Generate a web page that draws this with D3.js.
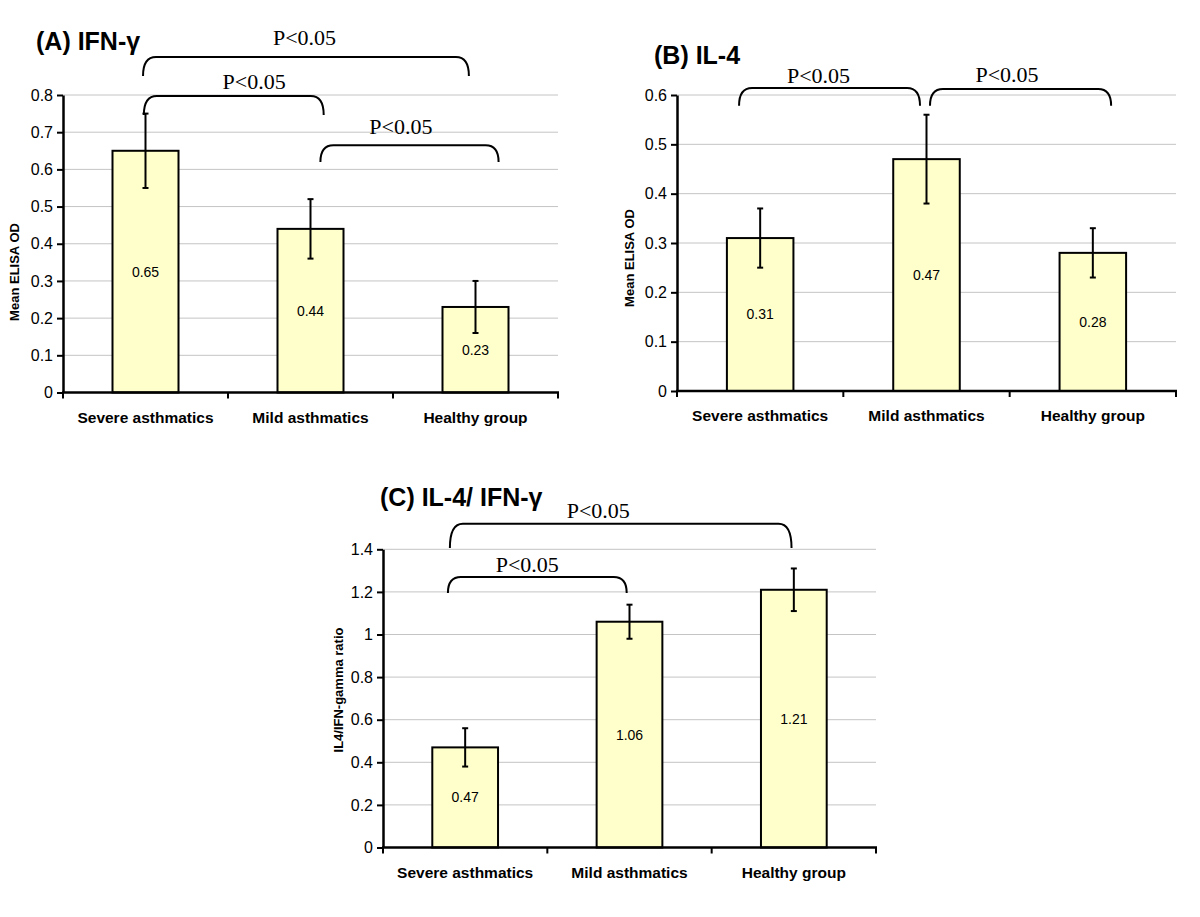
<!DOCTYPE html>
<html>
<head>
<meta charset="utf-8">
<script src="https://cdn.jsdelivr.net/npm/d3@7"></script>
<style>
  body { margin: 0; background: #fff; }
  svg { display: block; }
</style>
</head>
<body>
<div id="chart"></div>
<script>
// Data
const categories = ["Severe asthmatics", "Mild asthmatics", "Healthy group"];

const ifnMeans = [0.65, 0.44, 0.23];
const ifnErrors = [0.10, 0.08, 0.07];
const ifnTicks = [0, 0.1, 0.2, 0.3, 0.4, 0.5, 0.6, 0.7, 0.8];

const il4Means = [0.31, 0.47, 0.28];
const il4Errors = [0.06, 0.09, 0.05];
const il4Ticks = [0, 0.1, 0.2, 0.3, 0.4, 0.5, 0.6];

const ratioMeans = [0.47, 1.06, 1.21];
const ratioErrors = [0.09, 0.08, 0.10];
const ratioTicks = [0, 0.2, 0.4, 0.6, 0.8, 1, 1.2, 1.4];

// significance comparisons (category index pairs)
const ifnComparisons = [[0, 2], [0, 1], [1, 2]];
const il4Comparisons = [[0, 1], [1, 2]];
const ratioComparisons = [[0, 2], [0, 1]];
const sigLabel = "P<0.05";

// Layout of the three panels (pixels) and of their brackets
// bracket x in category units (0..3), y in value units
const panels = [
  {
    title: "(A) IFN-\u03b3", titleX: 36, titleY: 50,
    yLabel: "Mean ELISA OD", yLabelX: 19, yLabelY: 272,
    left: 63, right: 558, bottom: 392.5, top: 95,
    means: ifnMeans, errors: ifnErrors, ticks: ifnTicks, comparisons: ifnComparisons,
    brackets: [
      { x1: 0.485, x2: 2.46, top: 0.902, end: 0.851, lx: 1.464, ly: 0.934 },
      { x1: 0.49, x2: 1.58, top: 0.797, end: 0.746, lx: 1.158, ly: 0.816 },
      { x1: 1.56, x2: 2.64, top: 0.665, end: 0.62, lx: 2.048, ly: 0.695 }
    ]
  },
  {
    title: "(B) IL-4", titleX: 654, titleY: 64,
    yLabel: "Mean ELISA OD", yLabelX: 634, yLabelY: 258,
    left: 677, right: 1176, bottom: 391, top: 95,
    means: il4Means, errors: il4Errors, ticks: il4Ticks, comparisons: il4Comparisons,
    brackets: [
      { x1: 0.373, x2: 1.461, top: 0.614, end: 0.578, lx: 0.851, ly: 0.625 },
      { x1: 1.521, x2: 2.61, top: 0.612, end: 0.578, lx: 1.984, ly: 0.626 }
    ]
  },
  {
    title: "(C) IL-4/ IFN-\u03b3", titleX: 380, titleY: 506,
    yLabel: "IL4/IFN-gamma ratio", yLabelX: 343, yLabelY: 690,
    left: 383, right: 876, bottom: 847.5, top: 549.3,
    means: ratioMeans, errors: ratioErrors, ticks: ratioTicks, comparisons: ratioComparisons,
    brackets: [
      { x1: 0.407, x2: 2.486, top: 1.52, end: 1.406, lx: 1.31, ly: 1.547 },
      { x1: 0.395, x2: 1.483, top: 1.27, end: 1.195, lx: 0.878, ly: 1.293 }
    ]
  }
];

const svg = d3.select("#chart")
  .append("svg")
  .attr("width", 1200)
  .attr("height", 917);

panels.forEach(p => drawPanel(p));

function drawPanel(p) {
  const g = svg.append("g");
  const maxTick = p.ticks[p.ticks.length - 1];

  const x = d3.scaleBand()
    .domain(categories)
    .range([p.left, p.right])
    .padding(0);

  // category units, for brackets
  const pos = d3.scaleLinear().domain([0, 3]).range([p.left, p.right]);

  const y = d3.scaleLinear()
    .domain([0, maxTick])
    .range([p.bottom, p.top]);

  // gridlines
  g.append("g")
    .selectAll("line")
    .data(p.ticks.filter(t => t > 0))
    .enter()
    .append("line")
    .attr("x1", p.left)
    .attr("x2", p.right)
    .attr("y1", d => y(d))
    .attr("y2", d => y(d))
    .attr("stroke", "#c4c4c4")
    .attr("stroke-width", 1);

  // bars
  const barW = x.bandwidth() * 0.4;
  g.append("g")
    .selectAll("rect")
    .data(p.means)
    .enter()
    .append("rect")
    .attr("x", (d, i) => x(categories[i]) + (x.bandwidth() - barW) / 2)
    .attr("y", d => y(d))
    .attr("width", barW)
    .attr("height", d => y(0) - y(d))
    .attr("fill", "#ffffcc")
    .attr("stroke", "#000")
    .attr("stroke-width", 2);

  // value labels
  g.append("g")
    .selectAll("text")
    .data(p.means)
    .enter()
    .append("text")
    .attr("x", (d, i) => x(categories[i]) + x.bandwidth() / 2)
    .attr("y", d => (y(0) + y(d)) / 2)
    .attr("dy", "0.35em")
    .attr("text-anchor", "middle")
    .style("font-family", "Arial, 'Liberation Sans', sans-serif")
    .style("font-size", "14px")
    .text(d => d);

  // error bars
  const eb = g.append("g")
    .selectAll("g")
    .data(p.means)
    .enter()
    .append("g")
    .attr("stroke", "#000")
    .attr("stroke-width", 2);
  const cx = (i) => x(categories[i]) + x.bandwidth() / 2;
  eb.append("line")
    .attr("x1", (d, i) => cx(i)).attr("x2", (d, i) => cx(i))
    .attr("y1", (d, i) => y(d - p.errors[i]))
    .attr("y2", (d, i) => y(d + p.errors[i]));
  eb.append("line")
    .attr("x1", (d, i) => cx(i) - 3).attr("x2", (d, i) => cx(i) + 3)
    .attr("y1", (d, i) => y(d + p.errors[i]))
    .attr("y2", (d, i) => y(d + p.errors[i]));
  eb.append("line")
    .attr("x1", (d, i) => cx(i) - 3).attr("x2", (d, i) => cx(i) + 3)
    .attr("y1", (d, i) => y(d - p.errors[i]))
    .attr("y2", (d, i) => y(d - p.errors[i]));

  // y axis
  const yAxis = g.append("g")
    .attr("transform", `translate(${p.left},0)`)
    .call(d3.axisLeft(y).tickValues(p.ticks).tickSize(6).tickSizeOuter(0).tickPadding(4).tickFormat(d => d));
  yAxis.select(".domain").attr("stroke-width", 2.5);
  yAxis.selectAll(".tick line").attr("stroke-width", 2);
  yAxis.selectAll(".tick text")
    .style("font-family", "Arial, 'Liberation Sans', sans-serif")
    .style("font-size", "16px")
    .attr("fill", "#000");

  // x axis
  const xAxis = g.append("g");
  xAxis.append("line")
    .attr("x1", p.left - 1).attr("x2", p.right + 1)
    .attr("y1", y(0)).attr("y2", y(0))
    .attr("stroke", "#000").attr("stroke-width", 2.5);
  const bounds = categories.map(c => x(c)).concat([p.right]);
  xAxis.selectAll(".xt")
    .data(bounds)
    .enter()
    .append("line")
    .attr("class", "xt")
    .attr("x1", d => d).attr("x2", d => d)
    .attr("y1", y(0)).attr("y2", y(0) + 6)
    .attr("stroke", "#000").attr("stroke-width", 2);
  xAxis.selectAll(".xl")
    .data(categories)
    .enter()
    .append("text")
    .attr("class", "xl")
    .attr("x", d => x(d) + x.bandwidth() / 2)
    .attr("y", y(0) + 30)
    .attr("text-anchor", "middle")
    .style("font-family", "Arial, 'Liberation Sans', sans-serif")
    .style("font-size", "15.5px")
    .style("font-weight", "bold")
    .text(d => d);

  // y axis label
  g.append("text")
    .attr("transform", `translate(${p.yLabelX},${p.yLabelY}) rotate(-90)`)
    .attr("text-anchor", "middle")
    .style("font-family", "Arial, 'Liberation Sans', sans-serif")
    .style("font-size", "13px")
    .style("font-weight", "bold")
    .text(p.yLabel);

  // title
  g.append("text")
    .attr("x", p.titleX)
    .attr("y", p.titleY)
    .style("font-family", "Arial, 'Liberation Sans', sans-serif")
    .style("font-size", "25px")
    .style("font-weight", "bold")
    .text(p.title);

  // significance brackets
  const r = 13;
  p.brackets.forEach((b, i) => {
    const x1 = pos(b.x1), x2 = pos(b.x2);
    const yt = y(b.top), ye = y(b.end);
    const path = d3.path();
    path.moveTo(x1, ye);
    path.quadraticCurveTo(x1, yt, x1 + r, yt);
    path.lineTo(x2 - r, yt);
    path.quadraticCurveTo(x2, yt, x2, ye);
    g.append("path")
      .attr("d", path.toString())
      .attr("fill", "none")
      .attr("stroke", "#000")
      .attr("stroke-width", 2);
    g.append("text")
      .attr("x", pos(b.lx))
      .attr("y", y(b.ly))
      .attr("text-anchor", "middle")
      .style("font-family", "'Times New Roman', 'Liberation Serif', serif")
      .style("font-size", "22px")
      .text(sigLabel);
  });
}
</script>
</body>
</html>
